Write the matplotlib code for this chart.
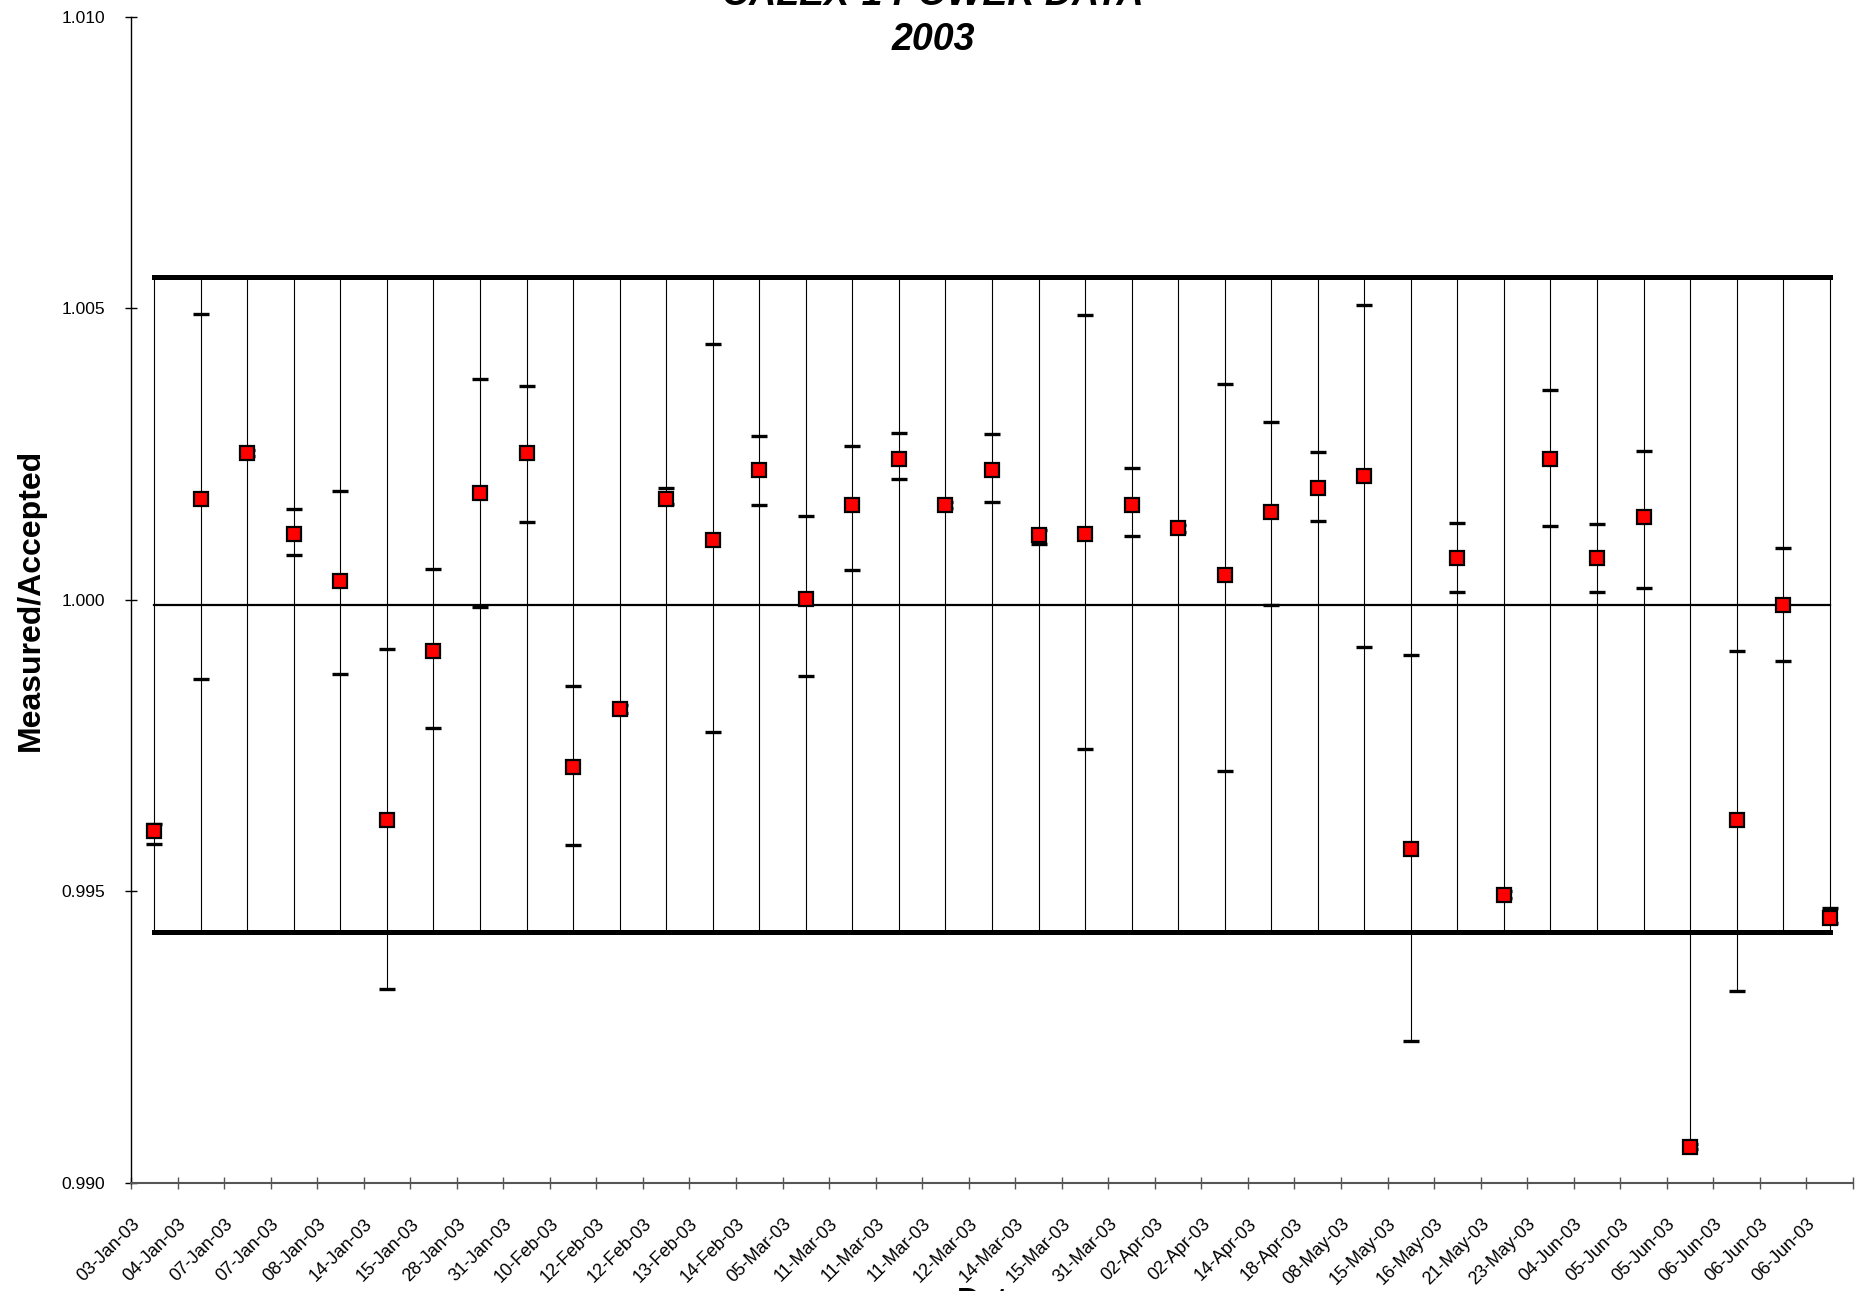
import numpy as np
import matplotlib
matplotlib.use("Agg")
import matplotlib.pyplot as plt

matplotlib.rcParams.update({
    'font.family': ['Liberation Sans', 'DejaVu Sans'],
    'font.size': 12,
})

dates = ['03-Jan-03', '04-Jan-03', '07-Jan-03', '07-Jan-03', '08-Jan-03', '14-Jan-03',
         '15-Jan-03', '28-Jan-03', '31-Jan-03', '10-Feb-03', '12-Feb-03', '12-Feb-03',
         '13-Feb-03', '14-Feb-03', '05-Mar-03', '11-Mar-03', '11-Mar-03', '11-Mar-03',
         '12-Mar-03', '14-Mar-03', '15-Mar-03', '31-Mar-03', '02-Apr-03', '02-Apr-03',
         '14-Apr-03', '18-Apr-03', '08-May-03', '15-May-03', '16-May-03', '21-May-03',
         '23-May-03', '04-Jun-03', '05-Jun-03', '05-Jun-03', '06-Jun-03', '06-Jun-03',
         '06-Jun-03']

measured = [0.99603, 1.00173, 1.00252, 1.00113, 1.00033, 0.99623, 0.99913, 1.00183,
            1.00252, 0.99713, 0.99812, 1.00173, 1.00103, 1.00222, 1.00002, 1.00162,
            1.00242, 1.00162, 1.00222, 1.00111, 1.00113, 1.00162, 1.00123, 1.00043,
            1.00151, 1.00192, 1.00212, 0.99573, 1.00072, 0.99494, 1.00242, 1.00072,
            1.00142, 0.99061, 0.99623, 0.99992, 0.99454]

upper_err = [0.99616, 1.00490, 1.00257, 1.00156, 1.00186, 0.99916, 1.00053, 1.00378,
             1.00367, 0.99853, 0.99819, 1.00192, 1.00438, 1.00281, 1.00143, 1.00264,
             1.00286, 1.00167, 1.00285, 1.00120, 1.00489, 1.00226, 1.00128, 1.00370,
             1.00305, 1.00254, 1.00506, 0.99905, 1.00131, 0.99501, 1.00360, 1.00130,
             1.00255, 0.99066, 0.99913, 1.00089, 0.99471]

lower_err = [0.99582, 0.99864, 1.00247, 1.00077, 0.99872, 0.99333, 0.99780, 0.99988,
             1.00133, 0.99579, 0.99806, 1.00164, 0.99773, 1.00163, 0.99869, 1.00051,
             1.00207, 1.00157, 1.00168, 1.00096, 0.99745, 1.00109, 1.00117, 0.99707,
             0.99991, 1.00136, 0.99919, 0.99244, 1.00014, 0.99488, 1.00127, 1.00013,
             1.00021, 0.99058, 0.99330, 0.99895, 0.99446]

upper_limit = 1.00553
lower_limit = 0.99431
average = 0.99991

n = len(dates)
x = np.arange(n)
meas = np.array(measured)
hi = np.array(upper_err)
lo = np.array(lower_err)
up_line = np.full(n, upper_limit)
low_line = np.full(n, lower_limit)
avg_line = np.full(n, average)

fig = plt.figure(figsize=(18.66, 12.91), dpi=100)
ax = fig.add_axes([0.0702, 0.0837, 0.9228, 0.9033])

# high-low lines across all series
top = np.maximum.reduce([up_line, hi, meas])
bot = np.minimum.reduce([low_line, lo, meas])
ax.vlines(x, bot, top, colors='black', linewidth=0.8, zorder=1)

ax.plot(x, up_line, color='black', linewidth=3.6, zorder=2)
ax.plot(x, low_line, color='black', linewidth=3.6, zorder=2)
ax.plot(x, avg_line, color='black', linewidth=1.6, zorder=2)

ax.plot(x, hi, linestyle='none', marker='_', markersize=11, markeredgewidth=2.4,
        color='black', zorder=3)
ax.plot(x, lo, linestyle='none', marker='_', markersize=11, markeredgewidth=2.4,
        color='black', zorder=3)
ax.plot(x, meas, linestyle='none', marker='s', markersize=9.5, markerfacecolor='#ff0000',
        markeredgecolor='black', markeredgewidth=1.6, zorder=4)

ax.set_xlim(-0.5, n - 0.5)
ax.set_ylim(0.990, 1.010)
ax.set_yticks([0.990, 0.995, 1.000, 1.005, 1.010])
ax.set_yticklabels(['%.3f' % v for v in [0.990, 0.995, 1.000, 1.005, 1.010]])

ax.set_xticks(np.arange(n + 1) - 0.5)
ax.set_xticklabels(dates + [''], rotation=45, ha='right', rotation_mode='anchor')

ax.tick_params(axis='x', direction='inout', length=9, width=1, color='#555555', pad=19,
               labelsize=13)
ax.tick_params(axis='y', direction='inout', length=9, width=1, color='black', pad=14,
               labelsize=12.5)

for s in ['top', 'right']:
    ax.spines[s].set_visible(False)
ax.spines['left'].set_color('black')
ax.spines['left'].set_linewidth(1)
ax.spines['bottom'].set_color('#555555')
ax.spines['bottom'].set_linewidth(1.5)

ax.set_ylabel('Measured/Accepted', fontsize=23, fontweight='bold', va='center')
ax.yaxis.set_label_coords(-0.058, 0.5)
ax.set_xlabel('Date', fontsize=23, fontweight='bold', va='top')
ax.xaxis.set_label_coords(0.5, -0.089)

fig.text(0.5, 0.9961, 'CALEX-1 POWER DATA', ha='center', va='baseline',
         fontsize=27, fontweight='bold', fontstyle='italic')
fig.text(0.5, 0.9613, '2003', ha='center', va='baseline',
         fontsize=27, fontweight='bold', fontstyle='italic')

fig.savefig('out.png', dpi=100)
